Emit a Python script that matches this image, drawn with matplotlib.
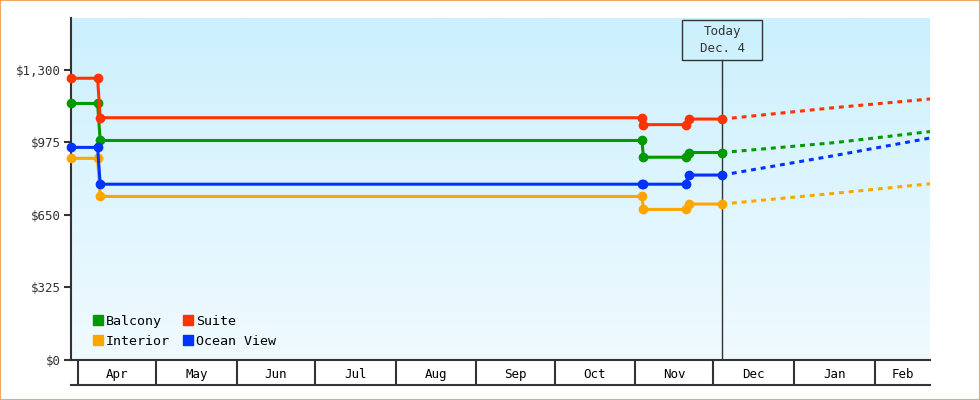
"""Cabin price history with projection past today."""
import matplotlib
matplotlib.use("Agg")
import matplotlib.pyplot as plt
import matplotlib.dates as mdates
import numpy as np
import pandas as pd
from matplotlib.colors import LinearSegmentedColormap
from matplotlib.lines import Line2D
from matplotlib.patches import Rectangle
from matplotlib.transforms import blended_transform_factory

# --- data -------------------------------------------------------------
times = pd.to_datetime(["2012-03-29 08:00", "2012-04-08 13:00", "2012-04-09 13:00",
                        "2012-11-03 12:00", "2012-11-04 03:00", "2012-11-20 07:00",
                        "2012-11-21 10:00", "2012-12-04 08:00"])
balcony = [1150, 1150, 984, 984, 909, 909, 930, 930]
suite = [1263, 1263, 1086, 1086, 1055, 1055, 1080, 1080]
interior = [904, 904, 733, 733, 675, 675, 699, 699]
ocean_view = [953, 953, 788, 788, 788, 788, 829, 829]

proj_times = pd.to_datetime(["2012-12-04 08:00", "2013-01-16 07:00", "2013-02-22 03:00"])
balcony_proj = [930, 974, 1024]
suite_proj = [1080, 1131, 1170]
interior_proj = [699, 747, 790]
ocean_view_proj = [829, 916, 995]

today = pd.Timestamp("2012-12-04 08:00")
today_label = "Today\nDec. 4"
y_ticks = [0, 325, 650, 975, 1300]
y_labels = ["$0", "$325", "$650", "$975", "$1,300"]
month_starts = pd.date_range("2012-04-01", "2013-02-01", freq="MS")
x_start = pd.Timestamp("2012-03-29 08:00")
x_end = pd.Timestamp("2013-02-22 03:00")

series = [
    ("Balcony", balcony, balcony_proj, "#009900"),
    ("Interior", interior, interior_proj, "#ffa500"),
    ("Suite", suite, suite_proj, "#ff3300"),
    ("Ocean View", ocean_view, ocean_view_proj, "#0033ff"),
]

FONT = "DejaVu Sans Mono"
DARK = "#333333"

fig = plt.figure(figsize=(9.8, 4.0), dpi=100)
ax = fig.add_axes([71 / 980, 40 / 400, 859 / 980, 342 / 400])

# gradient background
cmap = LinearSegmentedColormap.from_list("bg", ["#f0faff", "#ccf0fd"])
ax.imshow(np.linspace(0, 1, 256).reshape(-1, 1), cmap=cmap, origin="lower",
          extent=[0, 1, 0, 1], transform=ax.transAxes, aspect="auto", zorder=0)

for name, vals, proj, color in series:
    ax.plot(times, vals, color=color, lw=2.2, marker="o", ms=6, zorder=3,
            clip_on=False)
    ax.plot(proj_times, proj, color=color, lw=2.2, ls=(0, (1.6, 1.6)), zorder=3)

ax.set_xlim(x_start, x_end)
ax.set_ylim(0, 1533)

# today marker
trans = blended_transform_factory(ax.transData, ax.transAxes)
box_bottom = (360 - 60) / 342
ax.axvline(today, ymin=0, ymax=box_bottom, color=DARK, lw=1, zorder=2)
t_num = mdates.date2num(today)
ax.add_patch(Rectangle((t_num - 15.35, box_bottom), 30.7, 40 / 342, transform=trans,
                       fill=False, edgecolor=DARK, lw=1, clip_on=False))
ax.text(t_num, box_bottom + 20 / 342, today_label, transform=trans, ha="center",
        va="center", ma="center", linespacing=1.5, fontsize=9, family=FONT,
        color=DARK)

# axes styling
for s in ("top", "right"):
    ax.spines[s].set_visible(False)
for s in ("left", "bottom"):
    ax.spines[s].set_color(DARK)
    ax.spines[s].set_linewidth(1.5)

ax.set_yticks(y_ticks)
ax.set_yticklabels(y_labels, family=FONT, fontsize=9, color=DARK)
ax.tick_params(axis="y", length=5, width=1.5, color=DARK, pad=2)

# month cells below the plot
centers = []
bounds = list(month_starts) + [x_end]
for a, b in zip(bounds[:-1], bounds[1:]):
    centers.append(a + (b - a) / 2)
ax.set_xticks(month_starts)
ax.set_xticklabels([])
ax.tick_params(axis="x", which="major", length=18, width=1.5, color=DARK)
ax.set_xticks(centers, minor=True)
ax.set_xticklabels([m.strftime("%b") for m in month_starts], minor=True,
                   family=FONT, fontsize=9, color="black")
ax.tick_params(axis="x", which="minor", length=0, pad=6)
ax.plot([0, 1], [-25 / 342] * 2, transform=ax.transAxes, color=DARK, lw=1.5,
        clip_on=False)

# legend
handles = [Line2D([], [], ls="none", marker="s", ms=7.5, color=c, label=n)
           for n, _, _, c in series]
ax.legend(handles=handles, ncol=2, loc="lower left", bbox_to_anchor=(0.0256, 0.035),
          frameon=False, borderpad=0, borderaxespad=0, handlelength=0.75,
          handletextpad=0.2, columnspacing=1.0, labelspacing=0.55,
          prop={"family": FONT, "size": 9.6})

# outer frame
fig.add_artist(Rectangle((0, 0), 1, 1, transform=fig.transFigure, fill=False,
                         edgecolor="#f0a860", lw=1.5))

fig.savefig("out.png", dpi=100)
